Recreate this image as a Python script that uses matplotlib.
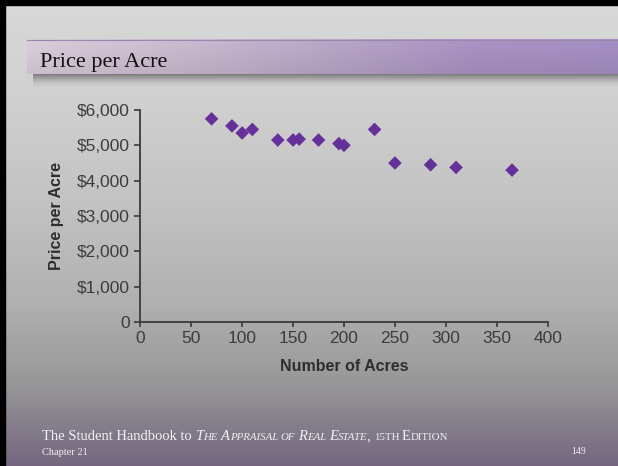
import numpy as np
import matplotlib
matplotlib.use("Agg")
import matplotlib.pyplot as plt
from matplotlib.colors import to_rgb
from matplotlib.ticker import FuncFormatter

# acreage and sale price per acre for the comparable sales
acres = [70, 90, 100, 110, 135, 150, 156, 175, 195, 200, 230, 250, 285, 310, 365]
price_per_acre = [5750, 5550, 5350, 5450, 5150, 5150, 5175, 5150, 5050, 5000,
                  5450, 4500, 4450, 4375, 4300]

x_ticks = [0, 50, 100, 150, 200, 250, 300, 350, 400]
y_ticks = [0, 1000, 2000, 3000, 4000, 5000, 6000]

slide_title = "Price per Acre"
x_label = "Number of Acres"
y_label = "Price per Acre"
footer_chapter = "Chapter 21"
page_number = "149"

W, H = 618, 466
fig = plt.figure(figsize=(W / 100, H / 100), dpi=100)

# ---- slide background (pixel coordinates) ----
bg = fig.add_axes([0, 0, 1, 1])
bg.set_xlim(0, W)
bg.set_ylim(H, 0)
bg.axis("off")

def vgrad(stops, n):
    ys = np.array([s[0] for s in stops], dtype=float)
    cols = np.array([to_rgb(s[1]) for s in stops])
    yy = np.linspace(ys[0], ys[-1], n)
    return np.stack([np.interp(yy, ys, cols[:, k]) for k in range(3)], axis=-1)

bg_stops = [(0, "#d9d9d9"), (100, "#d0d0d0"), (200, "#c3c3c3"), (300, "#b1b1b1"),
            (370, "#9c9c9c"), (400, "#918e93"), (430, "#837b89"), (466, "#74677f")]
col = vgrad(bg_stops, H)[:, None, :]
bg.imshow(np.repeat(col, 2, axis=1), extent=(0, W, H, 0), aspect="auto", zorder=0)

# black edge on the left and top
bg.add_patch(plt.Rectangle((0, 0), 5, H, color="black", zorder=5))
bg.add_patch(plt.Rectangle((0, 0), W, 5, color="black", zorder=5))

# title band with soft drop shadow
bar_x0, bar_y0, bar_y1 = 27, 39, 74
shadow = np.zeros((16, 2, 4))
shadow[:, :, 3] = 0.5 * np.linspace(1.0, 0.0, 16)[:, None] ** 1.6
bg.imshow(shadow, extent=(bar_x0 + 6, W, bar_y1 + 14, bar_y1 - 2),
          aspect="auto", zorder=1)

bar_cols = ["#d2c7d3", "#c5b5c9", "#b4a2c1", "#a58ebd", "#a08abd"]
xs = np.linspace(0, 1, len(bar_cols))
rgb = np.array([to_rgb(c) for c in bar_cols])
xx = np.linspace(0, 1, 300)
row = np.stack([np.interp(xx, xs, rgb[:, k]) for k in range(3)], axis=-1)
band = np.repeat(row[None, :, :], 30, axis=0)
shade = np.linspace(1.04, 0.96, 30)[:, None, None]
band = np.clip(band * shade, 0, 1)
bg.imshow(band, extent=(bar_x0, W, bar_y1, bar_y0), aspect="auto", zorder=2)
bg.plot([bar_x0, W], [bar_y0 + 0.5, bar_y0 + 0.5], color="#9a88aa", lw=0.8, zorder=3)

bg.text(40, 67, slide_title, fontsize=16, family="Liberation Serif",
        color="#111111", zorder=4)

# footer line with small capitals, laid out piece by piece
big, small = 10.5, 7.8
pieces = [
    ("The Student Handbook to", big, "normal", 0.35),
    ("T", big, "italic", 0), ("HE", small, "italic", 0.35),
    ("A", big, "italic", 0), ("PPRAISAL", small, "italic", 0.35),
    ("OF", small, "italic", 0.35),
    ("R", big, "italic", 0), ("EAL", small, "italic", 0.35),
    ("E", big, "italic", 0), ("STATE", small, "italic", -0.1),
    (",", big, "normal", 0.35),
    ("15TH", small, "normal", 0.35),
    ("E", big, "normal", 0), ("DITION", small, "normal", 0),
]
renderer = fig.canvas.get_renderer()
inv = bg.transData.inverted()
x = 42.0
for txt, size, style, gap in pieces:
    t = bg.text(x, 440, txt, fontsize=size, style=style, family="Liberation Serif",
                color="#f2f0f4", zorder=4)
    ext = t.get_window_extent(renderer)
    x = inv.transform((ext.x1, ext.y0))[0] + size * gap
bg.text(42, 455, footer_chapter, fontsize=7.5, family="Liberation Serif",
        color="#f2f0f4", zorder=4)
bg.text(586, 454, page_number, fontsize=7, family="Liberation Serif",
        color="#f2f0f4", ha="right", zorder=4)

# ---- scatter chart ----
ax = fig.add_axes([140.3 / W, 1 - 322 / H, (547.7 - 140.3) / W, (322 - 110) / H])
ax.patch.set_alpha(0)
ax.scatter(acres, price_per_acre, marker="D", s=48, color="#66309a",
           edgecolors="none", zorder=3, clip_on=False)

ax.set_xlim(0, 400)
ax.set_ylim(0, 6000)
ax.set_xticks(x_ticks)
ax.set_yticks(y_ticks)
ax.yaxis.set_major_formatter(FuncFormatter(lambda v, p: "0" if v == 0 else f"${v:,.0f}"))

for s in ("top", "right"):
    ax.spines[s].set_visible(False)
for s in ("left", "bottom"):
    ax.spines[s].set_color("#3a3a3a")
    ax.spines[s].set_linewidth(1.3)

ax.tick_params(axis="y", direction="out", length=4.5, width=1.2, color="#3a3a3a",
               labelsize=12.5, labelcolor="#3c3c3c", pad=3)
ax.tick_params(axis="x", direction="out", length=3.5, width=1.2, color="#3a3a3a",
               labelsize=12.5, labelcolor="#3c3c3c", pad=3)
for lab in ax.get_xticklabels() + ax.get_yticklabels():
    lab.set_family("Liberation Sans")

ax.set_xlabel(x_label, fontsize=11.5, fontweight="bold", color="#2e2e2e",
              family="Liberation Sans", labelpad=9)
ax.set_ylabel(y_label, fontsize=11.5, fontweight="bold", color="#2e2e2e",
              family="Liberation Sans", labelpad=9)

fig.savefig("out.png", dpi=100)
